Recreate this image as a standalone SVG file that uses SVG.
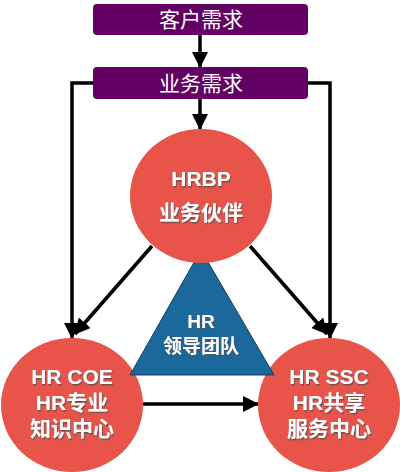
<svg xmlns="http://www.w3.org/2000/svg" width="400" height="472" viewBox="0 0 400 472">
<defs>
<marker id="ah" markerUnits="userSpaceOnUse" markerWidth="16" markerHeight="16" viewBox="0 0 16 16" refX="15" refY="8" orient="auto">
<path d="M0,0 L16,8 L0,16 Z" fill="#000"/>
</marker>
<filter id="sh" x="-20%" y="-20%" width="140%" height="140%">
<feDropShadow dx="1" dy="1.5" stdDeviation="0.6" flood-color="#555" flood-opacity="0.8"/>
</filter>
</defs>
<style>
.box{fill:#630063;}
.btxt{font-family:"Noto Sans CJK SC","Noto Sans",sans-serif;font-size:21px;fill:#fff;text-anchor:middle;}
.circ{fill:#E8534A;}
.ctxt{font-family:"Liberation Sans","Noto Sans CJK SC",sans-serif;font-size:21px;font-weight:bold;fill:#fff;text-anchor:middle;filter:url(#sh);}
.ttxt{font-family:"Liberation Sans","Noto Sans CJK SC",sans-serif;font-size:19px;font-weight:bold;fill:#fff;text-anchor:middle;filter:url(#sh);}
.con{fill:none;stroke:#000;stroke-width:3.5;marker-end:url(#ah);}
</style>
<rect width="400" height="472" fill="#fff"/>
<g id="connectors">
<path class="con" d="M200,35 L200,67"/>
<path class="con" d="M200,99 L200,129"/>
<path class="con" d="M93,83 L72,83 L72,338"/>
<path class="con" d="M308,83 L330,83 L330,338"/>
<path class="con" d="M152,246 L75,334"/>
<path class="con" d="M250,246 L327,334"/>
<path class="con" d="M143,404 L258,404"/>
</g>
<g id="customer-demand">
<rect class="box" x="93" y="4" width="215" height="31" rx="4"/>
<text class="btxt" x="201" y="27">客户需求</text>
</g>
<g id="business-demand">
<rect class="box" x="93" y="67" width="215" height="32" rx="4"/>
<text class="btxt" x="201" y="91">业务需求</text>
</g>
<g id="hr-coe">
<ellipse class="circ" cx="72" cy="405" rx="71" ry="67"/>
<text class="ctxt" x="72" y="384">HR COE</text>
<text class="ctxt" x="72" y="410">HR专业</text>
<text class="ctxt" x="72" y="436">知识中心</text>
</g>
<g id="hr-ssc">
<ellipse class="circ" cx="329" cy="405" rx="71" ry="67"/>
<text class="ctxt" x="329" y="384">HR SSC</text>
<text class="ctxt" x="329" y="410">HR共享</text>
<text class="ctxt" x="329" y="436">服务中心</text>
</g>
<g id="hr-leadership">
<path d="M201,250 L130,375 L274,375 Z" fill="#1A689C" stroke="#16395a" stroke-width="1"/>
<text class="ttxt" x="201" y="328">HR</text>
<text class="ttxt" x="201" y="353">领导团队</text>
</g>
<g id="hrbp">
<ellipse class="circ" cx="201" cy="196" rx="71" ry="67"/>
<text class="ctxt" x="201" y="186">HRBP</text>
<text class="ctxt" x="201" y="220">业务伙伴</text>
</g>
</svg>
